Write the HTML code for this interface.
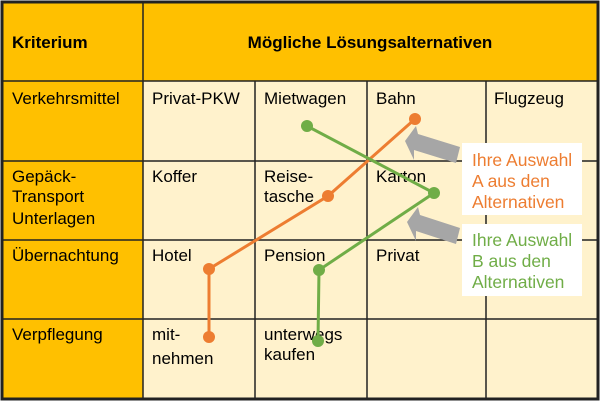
<!DOCTYPE html>
<html><head><style>
body{margin:0;width:600px;height:402px;background:#fff;overflow:hidden;font-family:"Liberation Sans",sans-serif}
svg{position:absolute;left:0;top:0}
</style></head><body>
<svg width="600" height="402" viewBox="0 0 600 402" font-family="Liberation Sans, sans-serif">
<rect x="2" y="2" width="596" height="397" fill="#fff2cc"/>
<rect x="2" y="2" width="596" height="79" fill="#ffc000"/>
<rect x="2" y="2" width="141" height="397" fill="#ffc000"/>
<g stroke="#222" stroke-width="1.5" fill="none">
<line x1="143" y1="2" x2="143" y2="399"/>
<line x1="255" y1="81" x2="255" y2="399"/>
<line x1="367" y1="81" x2="367" y2="399"/>
<line x1="486" y1="81" x2="486" y2="399"/>
<line x1="2" y1="81" x2="598" y2="81"/>
<line x1="2" y1="161" x2="598" y2="161"/>
<line x1="2" y1="240" x2="598" y2="240"/>
<line x1="2" y1="319" x2="598" y2="319"/>
</g>
<rect x="2" y="2" width="596" height="397" fill="none" stroke="#222" stroke-width="3"/>
<g font-size="17" fill="#000">
<text x="12" y="48" font-weight="bold">Kriterium</text>
<text x="370" y="48" font-weight="bold" text-anchor="middle">Mögliche Lösungsalternativen</text>
<text x="12" y="104">Verkehrsmittel</text>
<text x="152" y="104">Privat-PKW</text>
<text x="264" y="104">Mietwagen</text>
<text x="376" y="104">Bahn</text>
<text x="494" y="104">Flugzeug</text>
<text x="12" y="182">Gepäck-</text>
<text x="12" y="202">Transport</text>
<text x="12" y="224">Unterlagen</text>
<text x="152" y="182">Koffer</text>
<text x="264" y="182">Reise-</text>
<text x="264" y="202">tasche</text>
<text x="376" y="182">Karton</text>
<text x="12" y="261">Übernachtung</text>
<text x="152" y="261">Hotel</text>
<text x="264" y="261">Pension</text>
<text x="376" y="261">Privat</text>
<text x="12" y="340">Verpflegung</text>
<text x="152" y="340">mit-</text>
<text x="152" y="364">nehmen</text>
<text x="264" y="340">unterwegs</text>
<text x="264" y="360">kaufen</text>
</g>
<g stroke="#ed7d31" stroke-width="3" fill="none"><polyline points="415,119 328,196 209,269 209,337"/></g>
<g fill="#ed7d31"><circle cx="415" cy="119" r="6"/><circle cx="328" cy="196" r="6"/><circle cx="209" cy="269" r="6"/><circle cx="209" cy="337" r="6"/></g>
<g stroke="#70ad47" stroke-width="3" fill="none"><polyline points="307,126 434,193 319,270 318,341"/></g>
<g fill="#70ad47"><circle cx="307" cy="126" r="6"/><circle cx="434" cy="193" r="6"/><circle cx="319" cy="270" r="6"/><circle cx="318" cy="341" r="6"/></g>
<g fill="#a6a6a6">
<polygon points="405,141 416,126 418,134 460,147 456,163 414,150 414,160"/>
<polygon points="407,222 418,207 420,215 460,228 456,244 416,231 416,241"/>
</g>
<rect x="462" y="143" width="120" height="72" fill="#fff"/>
<rect x="462" y="224" width="120" height="72" fill="#fff"/>
<g font-size="17.5" fill="#ed7d31">
<text x="472" y="166">Ihre Auswahl</text>
<text x="472" y="187">A aus den</text>
<text x="472" y="208">Alternativen</text>
</g>
<g font-size="17.5" fill="#70ad47">
<text x="472" y="246">Ihre Auswahl</text>
<text x="472" y="267">B aus den</text>
<text x="472" y="288">Alternativen</text>
</g>
</svg>
</body></html>
